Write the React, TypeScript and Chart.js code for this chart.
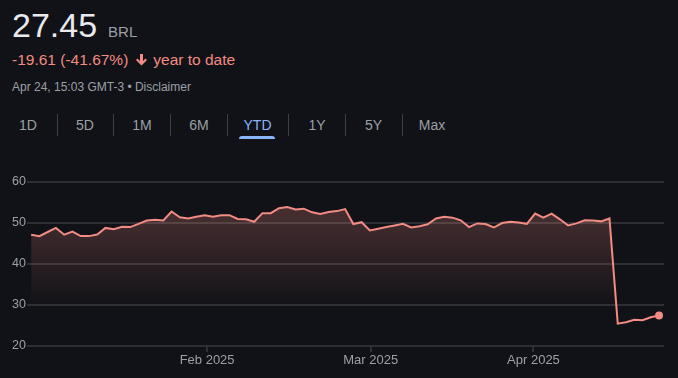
import React, { useEffect, useRef } from "react";
import { Chart, registerables } from "chart.js";

Chart.register(...registerables);

// ---- data ----
const prices: number[] = [
  47.15, 46.8, 47.8, 48.8, 47.15, 47.9, 46.8, 46.8, 47.2, 48.8,
  48.5, 49.1, 49.0, 49.8, 50.6, 50.8, 50.6, 52.8, 51.4, 51.1,
  51.5, 51.9, 51.5, 51.9, 51.9, 51.0, 50.9, 50.3, 52.4, 52.4,
  53.6, 53.9, 53.3, 53.5, 52.6, 52.2, 52.7, 52.9, 53.4, 49.75,
  50.2, 48.2, 48.6, 49.0, 49.4, 49.8, 48.9, 49.2, 49.7, 51.1,
  51.5, 51.3, 50.65, 49.0, 49.9, 49.75, 48.9, 50.0, 50.3, 50.1,
  49.8, 52.3, 51.3, 52.3, 50.9, 49.4, 49.9, 50.65, 50.6, 50.4,
  51.1, 25.45, 25.8, 26.4, 26.3, 27.0, 27.45,
];
const monthTickIndex: number[] = [21.3, 41.1, 60.8];
const monthTickLabels: string[] = ["Feb 2025", "Mar 2025", "Apr 2025"];
const yTicks: number[] = [20, 30, 40, 50, 60];
const rangeTabs: string[] = ["1D", "5D", "1M", "6M", "YTD", "1Y", "5Y", "Max"];
const activeTab = "YTD";

const BG = "#111217";
const RED = "#f28b82";
const GREY = "#9aa0a6";
const GRID = "#2e2f34";
const FONT = "Arial, 'Liberation Sans', sans-serif";

const tabCenters = [28, 85, 142, 199, 257.5, 317, 373.5, 432];
const sepX = [57, 113, 170, 227, 288, 345, 402];

function PriceChart() {
  const ref = useRef<HTMLCanvasElement | null>(null);
  useEffect(() => {
    if (!ref.current) return;
    const last = prices.length - 1;
    const chart = new Chart(ref.current, {
      type: "line",
      data: {
        datasets: [
          {
            data: prices.map((v, i) => ({ x: i, y: v })),
            borderColor: RED,
            borderWidth: 2,
            tension: 0,
            pointRadius: (ctx: any) => (ctx.dataIndex === last ? 4 : 0),
            pointBackgroundColor: RED,
            pointBorderWidth: 0,
            pointHoverRadius: 0,
            fill: "start",
            backgroundColor: (ctx: any) => {
              const ch = ctx.chart;
              const area = ch.chartArea;
              if (!area || !ch.scales.y) return "transparent";
              const y0 = ch.scales.y.getPixelForValue(55);
              const y1 = ch.scales.y.getPixelForValue(29);
              const g = ch.ctx.createLinearGradient(0, y0, 0, y1);
              g.addColorStop(0, "rgba(242,139,130,0.26)");
              g.addColorStop(1, "rgba(242,139,130,0)");
              return g;
            },
          } as any,
        ],
      },
      options: {
        animation: false,
        responsive: true,
        maintainAspectRatio: false,
        layout: { padding: { top: 12, right: 14, left: 0, bottom: 0 } },
        plugins: { legend: { display: false }, tooltip: { enabled: false } },
        scales: {
          x: {
            type: "linear",
            min: -0.5,
            max: 76.6,
            afterFit: (axis: any) => {
              axis.height = 32;
            },
            afterBuildTicks: (axis: any) => {
              axis.ticks = monthTickIndex.map((v) => ({ value: v }));
            },
            ticks: {
              autoSkip: false,
              maxRotation: 0,
              padding: 1,
              color: GREY,
              font: { family: FONT, size: 13 },
              callback: (_v: any, i: number) => monthTickLabels[i],
            },
            grid: {
              drawOnChartArea: false,
              drawTicks: true,
              tickLength: 6,
              color: GRID,
              lineWidth: 2,
            },
            border: { display: false },
          },
          y: {
            min: 20,
            max: 60,
            afterFit: (axis: any) => {
              axis.width = 27;
            },
            afterBuildTicks: (axis: any) => {
              axis.ticks = yTicks.map((v) => ({ value: v }));
            },
            ticks: {
              padding: 1,
              color: GREY,
              font: { family: FONT, size: 12.5 },
            },
            grid: { color: GRID, lineWidth: 2, drawTicks: false },
            border: { display: false },
          },
        },
      } as any,
    });
    return () => chart.destroy();
  }, []);
  return <canvas ref={ref} />;
}

export default function App() {
  return (
    <div
      style={{
        position: "absolute",
        left: 0,
        top: 0,
        width: 678,
        height: 378,
        background: BG,
        fontFamily: FONT,
        overflow: "hidden",
      }}
    >
      <div
        style={{
          position: "absolute",
          left: 12,
          top: 8,
          lineHeight: 1,
          whiteSpace: "nowrap",
        }}
      >
        <span style={{ fontSize: 34, color: "#e8eaed" }}>27.45</span>
        <span style={{ fontSize: 15, color: GREY, marginLeft: 11 }}>BRL</span>
      </div>
      <div
        style={{
          position: "absolute",
          left: 12,
          top: 52,
          fontSize: 15.5,
          lineHeight: 1,
          color: RED,
          whiteSpace: "nowrap",
          display: "flex",
          alignItems: "center",
        }}
      >
        <span>-19.61 (-41.67%)</span>
        <svg width="11" height="12" viewBox="0 0 11 12" style={{ marginLeft: 8, marginRight: 6 }}>
          <path d="M4 0 H7 V7 L9.5 4.5 L11 6 L5.5 11.5 L0 6 L1.5 4.5 L4 7 Z" fill={RED} />
        </svg>
        <span>year to date</span>
      </div>
      <div
        style={{
          position: "absolute",
          left: 12,
          top: 80.5,
          fontSize: 12,
          lineHeight: 1,
          color: GREY,
          whiteSpace: "nowrap",
        }}
      >
        Apr 24, 15:03 GMT-3 • Disclaimer
      </div>
      {rangeTabs.map((t, i) => (
        <div
          key={t}
          style={{
            position: "absolute",
            left: tabCenters[i] - 30,
            width: 60,
            top: 118,
            textAlign: "center",
            fontSize: 14,
            lineHeight: 1,
            color: t === activeTab ? "#8ab4f8" : GREY,
          }}
        >
          {t}
        </div>
      ))}
      {sepX.map((x) => (
        <div
          key={x}
          style={{
            position: "absolute",
            left: x,
            top: 114,
            width: 1,
            height: 22,
            background: "#3c4043",
          }}
        />
      ))}
      <div
        style={{
          position: "absolute",
          left: 239,
          top: 136,
          width: 36,
          height: 3,
          background: "#8ab4f8",
          borderRadius: "3px 3px 0 0",
        }}
      />
      <div style={{ position: "absolute", left: 0, top: 170, width: 678, height: 208 }}>
        <PriceChart />
      </div>
    </div>
  );
}
